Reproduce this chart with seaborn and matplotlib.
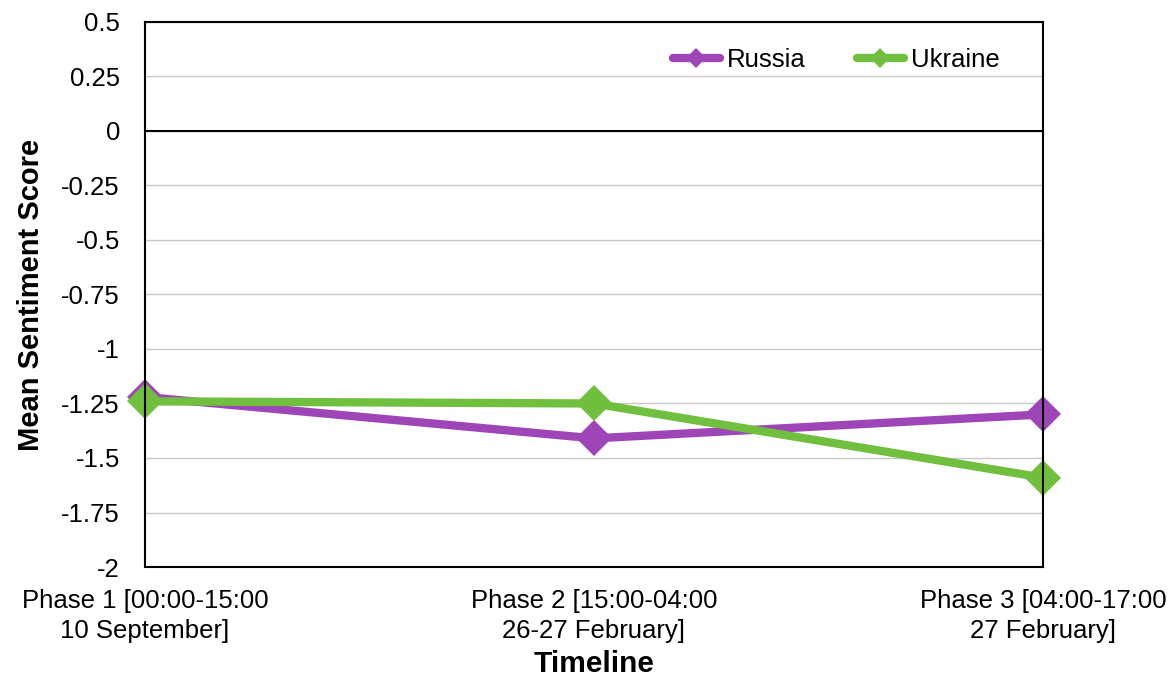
import numpy as np
import pandas as pd
import matplotlib
matplotlib.use('Agg')
import matplotlib.pyplot as plt
import seaborn as sns

phases = ['Phase 1 [00:00-15:00\n10 September]',
          'Phase 2 [15:00-04:00\n26-27 February]',
          'Phase 3 [04:00-17:00\n27 February]']
russia = [-1.22, -1.41, -1.30]
ukraine = [-1.24, -1.25, -1.59]

df = pd.DataFrame({
    'phase': list(range(3)) * 2,
    'score': russia + ukraine,
    'country': ['Russia'] * 3 + ['Ukraine'] * 3,
})

sns.set_theme(style='white')
plt.rcParams['font.family'] = ['Liberation Sans', 'DejaVu Sans']
plt.rcParams['text.color'] = 'black'
plt.rcParams['axes.labelcolor'] = 'black'
plt.rcParams['xtick.color'] = 'black'
plt.rcParams['ytick.color'] = 'black'

fig = plt.figure(figsize=(11.72, 6.81), dpi=100)
ax = fig.add_axes([0.1237, 0.1674, 0.7662, 0.8003])

palette = {'Russia': '#9E45B8', 'Ukraine': '#70BF3F'}
sns.lineplot(
    data=df, x='phase', y='score', hue='country', palette=palette,
    marker='D', markersize=18, markeredgewidth=0, linewidth=6, ax=ax
)
for ln in ax.get_lines():
    ln.set_clip_on(False)

ax.set_xlim(0, 2)
ax.set_ylim(-2, 0.5)
yt = np.arange(-2, 0.51, 0.25)
ax.set_yticks(yt)
ax.set_yticklabels([f'{v:g}' for v in yt], fontsize=18.5)
ax.set_xticks([0, 1, 2])
ax.set_xticklabels(phases, fontsize=18.5, linespacing=1.3)
ax.yaxis.grid(True, color='#C8C8C8', linewidth=1)
ax.axhline(0, color='black', linewidth=1.5, zorder=1)
ax.tick_params(axis='y', length=0, pad=18)
ax.tick_params(axis='x', length=0, pad=16)
for s in ax.spines.values():
    s.set_color('black')
    s.set_linewidth(1.5)

ax.set_xlabel('Timeline', fontsize=21.5, fontweight='bold', labelpad=5)
ax.set_ylabel('Mean Sentiment Score', fontsize=21, fontweight='bold', labelpad=12)

leg = ax.legend(loc='upper right', bbox_to_anchor=(0.978, 0.995), ncol=2, frameon=False,
                fontsize=18.5, handlelength=1.8, columnspacing=2.0, handletextpad=0.3,
                markerscale=0.55)
for line in leg.get_lines():
    line.set_linewidth(6)

fig.savefig('out.png', dpi=100)
